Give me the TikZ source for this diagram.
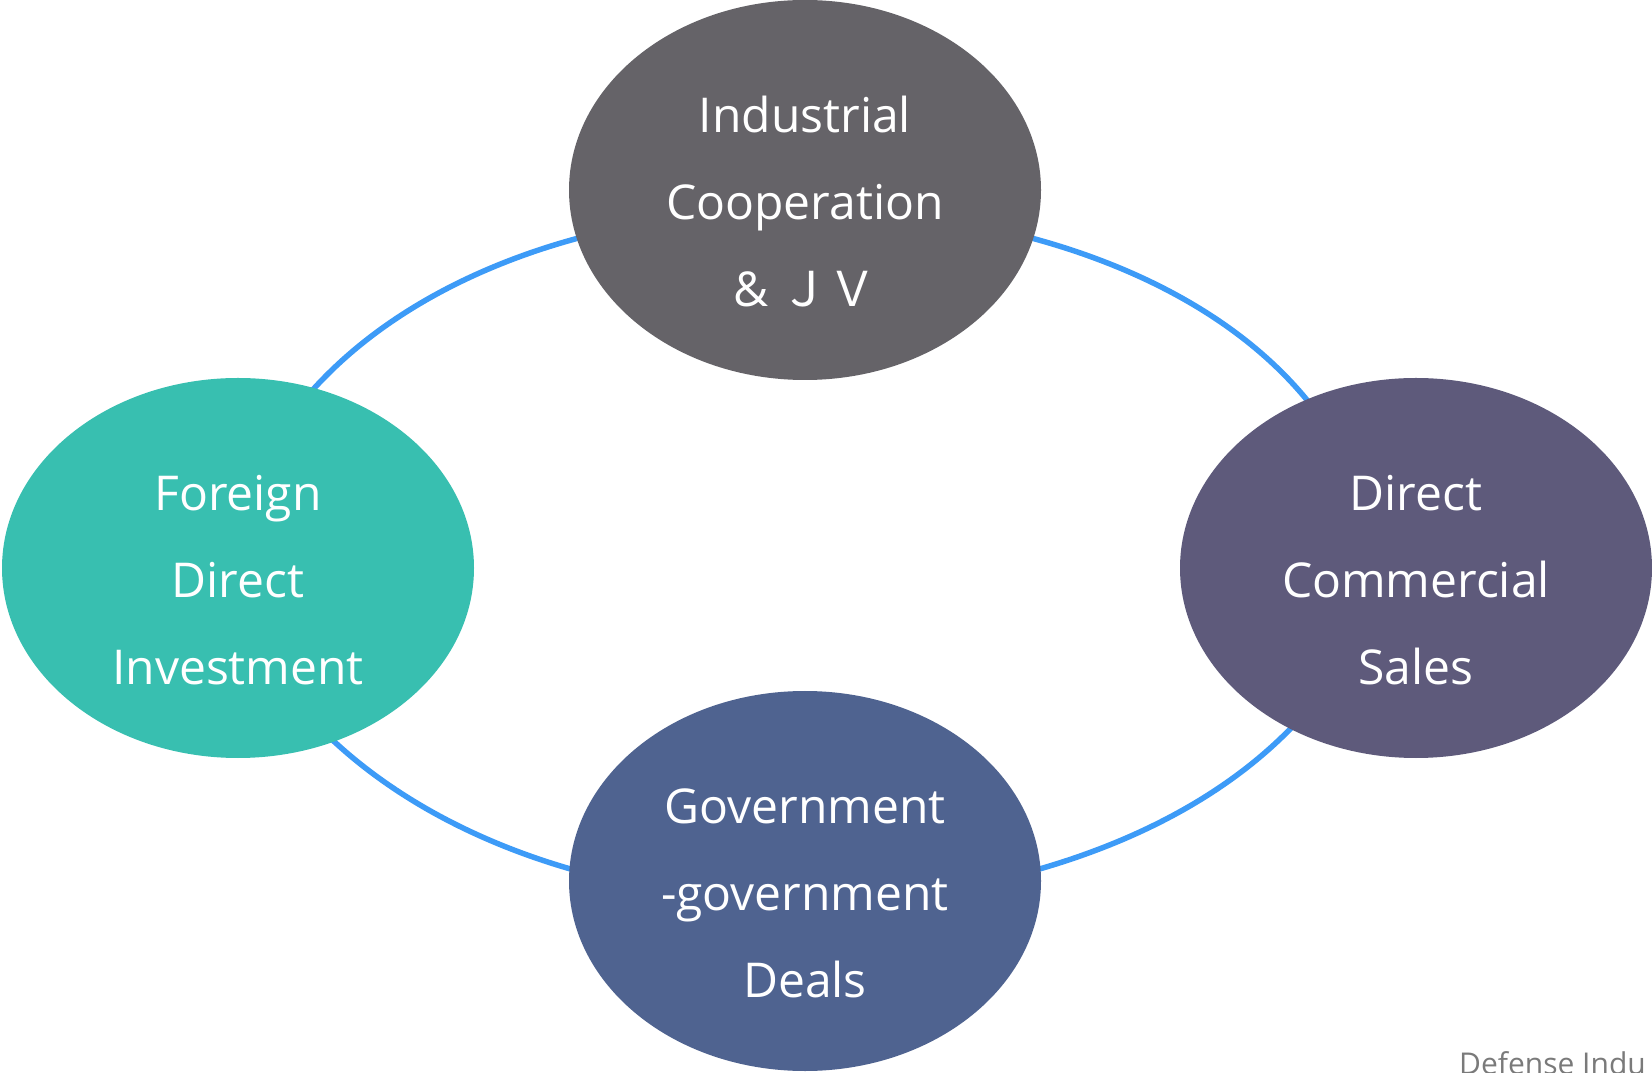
\documentclass[tikz,border=0pt]{standalone}
\usepackage{fontspec}
\setmainfont{Open Sans}
\newfontfamily\cjk{Noto Sans CJK SC}
\usetikzlibrary{shapes.geometric,backgrounds}
\definecolor{icgray}{HTML}{656368}
\definecolor{fditeal}{HTML}{38BFB0}
\definecolor{dcspurple}{HTML}{5E5A7B}
\definecolor{ggdblue}{HTML}{4F6390}
\definecolor{ringblue}{HTML}{3D9BF7}
\definecolor{notegray}{HTML}{7A7A7A}
\newcommand{\topgap}{\rule{0pt}{60pt}}
\begin{document}
\begin{tikzpicture}[x=1pt,y=1pt,
  blob/.style={ellipse,inner sep=0pt,minimum width=472pt,minimum height=380pt,
    text=white,align=center,font=\fontsize{48}{87}\selectfont},
  ring/.style={ringblue,line width=5.5pt,looseness=0.85,shorten <=-3pt,shorten >=-3pt}]
\useasboundingbox (0,0) rectangle (1652,1072);
%\draw [ringblue] (805,519) ellipse (561 and 343);
\node [blob,fill=icgray] (ic) at (805,882) {\topgap Industrial\\Cooperation\\\& {\cjk ＪＶ}};
\node [blob,fill=fditeal] (fdi) at (238,504) {\topgap Foreign\\Direct\\Investment};
\node [blob,fill=dcspurple] (dcs) at (1416,504) {\topgap Direct\\Commercial\\Sales};
\node [blob,fill=ggdblue] (ggd) at (805,191) {\topgap Government\\-government\\Deals};

\begin{scope}[on background layer]
\draw [ring](ic.192) to[out=195,in=48] (fdi.67);
\draw [ring](fdi.-61) to[out=-43,in=164] (ggd.177);
\draw [ring](ggd.3) to[out=16,in=226] (dcs.232);
\draw [ring](dcs.123) to[out=129,in=-15] (ic.348);
\end{scope}

\node [anchor=base west,text=notegray,font=\fontsize{30}{36}\selectfont,inner sep=0pt] (note) at (1459,-2.5) {Defense Indu};
\end{tikzpicture}
\end{document}
